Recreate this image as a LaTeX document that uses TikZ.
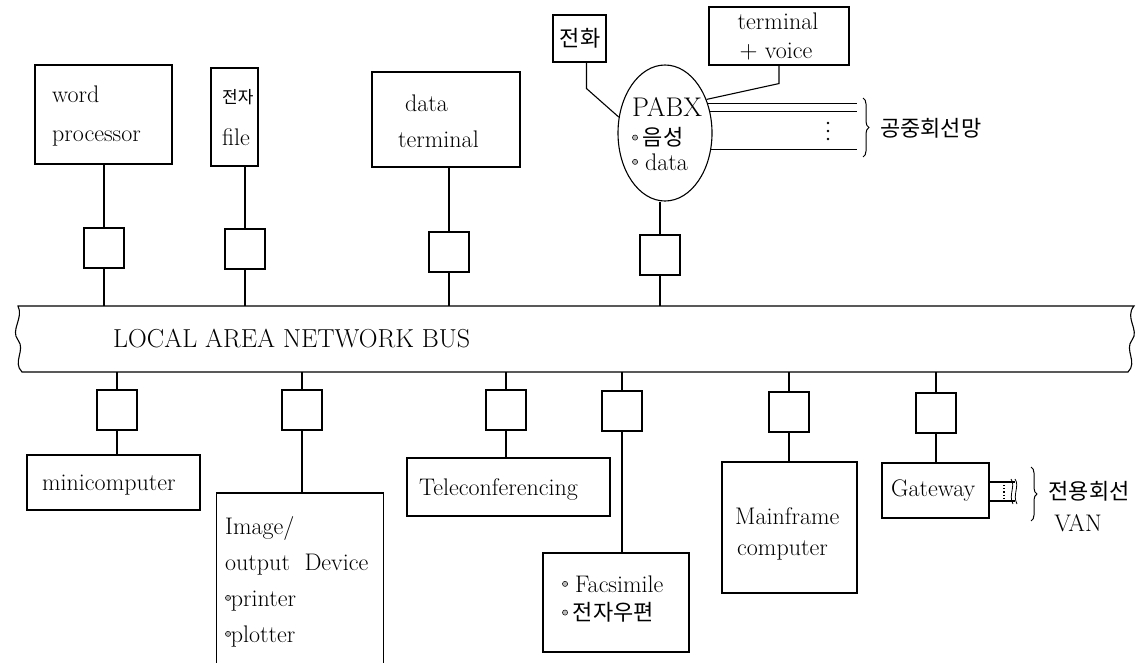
\documentclass[tikz,border=0pt]{standalone}
\usepackage{fontspec}
\usetikzlibrary{positioning,shapes.geometric,decorations.pathreplacing}
\newfontfamily\krfont{Noto Sans CJK KR}
\newcommand\lmtxt{\fontsize{24}{28}\selectfont}
\newcommand\bustxt{\fontsize{26}{30}\selectfont}
\newcommand\krtxt{\krfont\fontsize{22}{26}\selectfont}
\newcommand\bul{\raisebox{0.22em}{\tikz\draw[fill=gray!55, line width=0.5pt] (0,0) circle (2.6pt);}}

\begin{document}
\begin{tikzpicture}[x=1pt, y=-1pt,
  box/.style={draw=black, line width=1.1pt, inner sep=0pt},
  ad/.style={draw=black, line width=1.1pt, inner sep=0pt,
             minimum width=40pt, minimum height=40pt},
  wire/.style={line width=1.1pt},
  lbl/.style={font=\lmtxt, inner sep=0pt, anchor=base west},
  kr/.style={font=\krtxt, inner sep=0pt},
  brc/.style={decorate, decoration={brace, amplitude=6pt}, line width=1pt}
]
\useasboundingbox (0,0) rectangle (1147,662);

% bus
\draw[wire] (18,306) -- (1134,306)
  .. controls (1124,318) and (1140,330) .. (1132,340)
  .. controls (1124,350) and (1138,362) .. (1128,372)
  -- (22,372)
  .. controls (12,362) and (26,350) .. (18,340)
  .. controls (10,330) and (24,318) .. (18,306) -- cycle;
\coordinate (bt) at (0,306);
\coordinate (bb) at (0,372);
\node[lbl, font=\bustxt] (busname) at (113,347) {LOCAL AREA NETWORK BUS};

% top stations
\node[box, minimum width=137pt, minimum height=99pt] (wp) at (103.5,114.5) {};
\node[box, minimum width=47pt, minimum height=98pt] (fl) at (234.5,117) {};
\node[box, minimum width=148pt, minimum height=95pt] (dt) at (446,119.5) {};
\node[box, ellipse, minimum width=94pt, minimum height=136pt] (px) at (665,133) {};
\node[box, minimum width=53pt, minimum height=47pt] (ph) at (579.5,38.5) {};
\node[box, minimum width=140pt, minimum height=58pt] (tv) at (779,36) {};

\node[lbl] (wp1) at (52,102) {word};
\node[lbl] (wp2) at (52,141) {processor};
\node[kr, anchor=west, font=\krfont\fontsize{17}{20}\selectfont] (fl1) at (222,97) {전자};
\node[lbl] (fl2) at (222,145) {file};
\node[lbl] (dt1) at (405,111) {data};
\node[lbl] (dt2) at (398,147) {terminal};
\node[lbl, anchor=base, font=\fontsize{27}{30}\selectfont] (px1) at (667,116) {PABX};
\node[kr, anchor=west] (px2) at (632,137) {\bul\ 음성};
\node[lbl] (px3) at (632,170) {\bul\ data};
\node[kr] (ph1) at (580,38) {전화};
\node[lbl, anchor=base] (tv1) at (778,29) {terminal};
\node[lbl, anchor=base] (tv2) at (776,58) {$+$ voice};

\foreach \n/\x/\y in {wp/104/248, fl/245/249, dt/449/252, px/660/255}
  \node[ad] (ad\n) at (\x,\y) {};
\foreach \n in {wp,fl,dt,px}
  \draw[wire] (ad\n |- \n.south) -- (ad\n.north) (ad\n.south) -- (ad\n |- bt);

% PABX lines
\draw[wire] ([xshift=7pt]ph.south) -- ++(0,26) -- (px.161);
\draw[wire] (tv.south) -- ++(0,18) -- (px.39);
\coordinate (pe) at (857,0);
\foreach \a in {35,25,-20}
  \draw[wire] (px.\a) -- (px.\a -| pe);
\foreach \yy in {123,131,139}
  \fill (828,\yy) circle (1.4pt);
\draw[brc] (863,98) -- (863,157);
\node[kr, anchor=west] (pub) at (880,128) {공중회선망};

% bottom stations
\node[box, minimum width=173pt, minimum height=55pt] (mc) at (113.5,482.5) {};
\node[minimum width=166pt, minimum height=180pt, inner sep=0pt, anchor=north] (im) at (300,493) {};
\draw[wire] (im.south west) |- (im.north) -| (im.south east);
\node[box, minimum width=203pt, minimum height=58pt] (tc) at (508.5,487) {};
\node[box, minimum width=146pt, minimum height=99pt] (fx) at (616,602.5) {};
\node[box, minimum width=135pt, minimum height=131pt] (mf) at (789.5,527.5) {};
\node[box, minimum width=107pt, minimum height=55pt] (gw) at (935.5,490.5) {};

\foreach \n/\x/\y in {mc/117/410, im/302/410, tc/506/410, fx/622/411, mf/789/412, gw/936/413}
  \node[ad] (ad\n) at (\x,\y) {};
\foreach \n in {mc,im,tc,fx,mf,gw}
  \draw[wire] (ad\n |- bb) -- (ad\n.north) (ad\n.south) -- (ad\n |- \n.north);

\node[lbl] (mc1) at (42,490) {minicomputer};
\node[lbl] (im1) at (225,534) {Image/};
\node[lbl] (im2) at (225,570) {output\ \ Device};
\node[lbl] (im3) at (225,606) {\bul printer};
\node[lbl] (im4) at (225,642) {\bul plotter};
\node[lbl] (tc1) at (419,495) {Teleconferencing};
\node[lbl] (fx1) at (562,592) {\bul\ Facsimile};
\node[kr, anchor=west] (fx2) at (562,612) {\bul\ 전자우편};
\node[lbl] (mf1) at (735,524) {Mainframe};
\node[lbl] (mf2) at (737,555) {computer};
\node[lbl] (gw1) at (891,496) {Gateway};

% gateway lines
\draw[wire] ([yshift=8.5pt]gw.east) -- ++(25,0) ([yshift=-10.5pt]gw.east) -- ++(25,0);
\draw[dotted, line width=1.2pt] (1004,485) -- (1004,499);
\foreach \d in {0,4}
  \draw[line width=0.8pt] (1011+\d,479) .. controls (1016+\d,486) and (1008+\d,495) .. (1013+\d,504);
\draw[brc] (1031,467) -- (1031,521);
\node[kr] (ln1) at (1089,491) {전용회선};
\node[lbl, anchor=base] (ln2) at (1078,531) {VAN};
\end{tikzpicture}
\end{document}
